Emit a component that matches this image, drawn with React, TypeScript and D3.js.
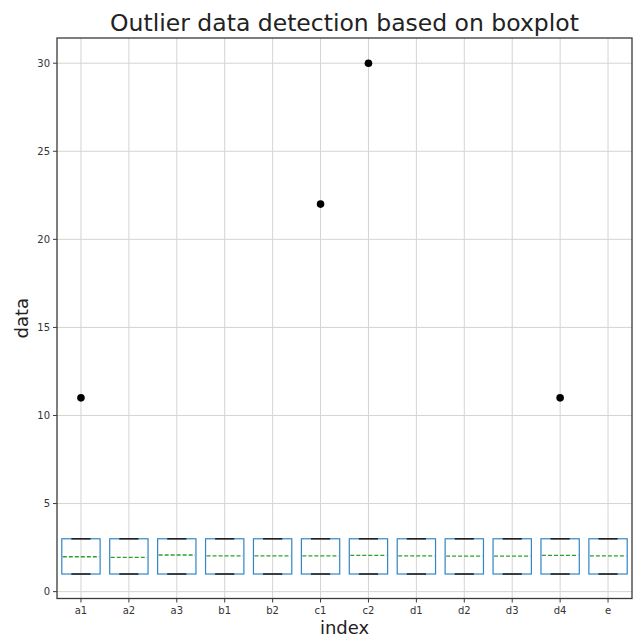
import React from "react";
import * as d3 from "d3";

const categories = ["a1", "a2", "a3", "b1", "b2", "c1", "c2", "d1", "d2", "d3", "d4", "e"];
const q1Values = [1, 1, 1, 1, 1, 1, 1, 1, 1, 1, 1, 1];
const q3Values = [3, 3, 3, 3, 3, 3, 3, 3, 3, 3, 3, 3];
const medianValues = [1.98, 1.95, 2.08, 2.03, 2.03, 2.03, 2.06, 2.03, 2.02, 2.02, 2.06, 2.03];
const whiskerLow = [1, 1, 1, 1, 1, 1, 1, 1, 1, 1, 1, 1];
const whiskerHigh = [3, 3, 3, 3, 3, 3, 3, 3, 3, 3, 3, 3];
const outlierCats = ["a1", "c1", "c2", "d4"];
const outlierValues = [11, 22, 30, 11];
const yTicks = [0, 5, 10, 15, 20, 25, 30];

const W = 635;
const H = 637;
const left = 57;
const right = 632;
const top = 38;
const bottom = 598.5;

export default function App() {
  const x = d3.scaleLinear().domain([0.5, categories.length + 0.5]).range([left, right]);
  const y = d3.scaleLinear().domain([-0.39, 31.43]).range([bottom, top]);
  const pos = (c: string) => x(categories.indexOf(c) + 1);
  const boxW = x(0.8) - x(0);
  const capW = x(0.4) - x(0);
  const font = "DejaVu Sans, sans-serif";
  const grid = "#d4d4d4";
  const spine = "#3a3a3a";

  return (
    <svg width={W} height={H} style={{ position: "absolute", left: 0, top: 0, background: "#fff" }}>
      <rect x={0} y={0} width={W} height={H} fill="#fff" />
      {/* grid */}
      {categories.map((c) => (
        <line key={"gx" + c} x1={pos(c)} x2={pos(c)} y1={top} y2={bottom} stroke={grid} strokeWidth={1} />
      ))}
      {yTicks.map((t) => (
        <line key={"gy" + t} x1={left} x2={right} y1={y(t)} y2={y(t)} stroke={grid} strokeWidth={1} />
      ))}
      {/* boxes */}
      {categories.map((c, i) => {
        const cx = pos(c);
        return (
          <g key={"b" + c}>
            <line x1={cx} x2={cx} y1={y(q3Values[i])} y2={y(whiskerHigh[i])} stroke="#1f77b4" strokeWidth={1} />
            <line x1={cx} x2={cx} y1={y(q1Values[i])} y2={y(whiskerLow[i])} stroke="#1f77b4" strokeWidth={1} />
            <rect
              x={cx - boxW / 2}
              y={y(q3Values[i])}
              width={boxW}
              height={y(q1Values[i]) - y(q3Values[i])}
              fill="none"
              stroke="#2f86c8"
              strokeWidth={1.2}
            />
            <line x1={cx - capW / 2} x2={cx + capW / 2} y1={y(whiskerHigh[i])} y2={y(whiskerHigh[i])} stroke="#222" strokeWidth={1.6} />
            <line x1={cx - capW / 2} x2={cx + capW / 2} y1={y(whiskerLow[i])} y2={y(whiskerLow[i])} stroke="#222" strokeWidth={1.6} />
            <line
              x1={cx - boxW / 2 + 1}
              x2={cx + boxW / 2 - 1}
              y1={y(medianValues[i])}
              y2={y(medianValues[i])}
              stroke="#2ca02c"
              strokeWidth={1.3}
              strokeDasharray="4,2"
            />
          </g>
        );
      })}
      {/* outliers */}
      {outlierCats.map((c, i) => (
        <circle key={"o" + i} cx={pos(c)} cy={y(outlierValues[i])} r={3.8} fill="#000" />
      ))}
      {/* spines */}
      <rect x={left} y={top} width={right - left} height={bottom - top} fill="none" stroke={spine} strokeWidth={1.3} />
      {/* y ticks */}
      {yTicks.map((t) => (
        <g key={"yt" + t}>
          <line x1={left - 4} x2={left} y1={y(t)} y2={y(t)} stroke={spine} strokeWidth={1} />
          <text x={left - 7} y={y(t)} dy="0.35em" textAnchor="end" fontSize={10} fill="#333" fontFamily={font}>
            {t}
          </text>
        </g>
      ))}
      {/* x ticks */}
      {categories.map((c) => (
        <g key={"xt" + c}>
          <line x1={pos(c)} x2={pos(c)} y1={bottom} y2={bottom + 4} stroke={spine} strokeWidth={1} />
          <text x={pos(c)} y={bottom + 15} textAnchor="middle" fontSize={10} fill="#333" fontFamily={font}>
            {c}
          </text>
        </g>
      ))}
      {/* labels */}
      <text x={(left + right) / 2} y={31} textAnchor="middle" fontSize={23.5} fill="#222" fontFamily={font}>
        Outlier data detection based on boxplot
      </text>
      <text x={(left + right) / 2} y={634} textAnchor="middle" fontSize={18} fill="#222" fontFamily={font}>
        index
      </text>
      <text
        transform={`translate(28, ${(top + bottom) / 2}) rotate(-90)`}
        textAnchor="middle"
        fontSize={18}
        fill="#222"
        fontFamily={font}
      >
        data
      </text>
    </svg>
  );
}
